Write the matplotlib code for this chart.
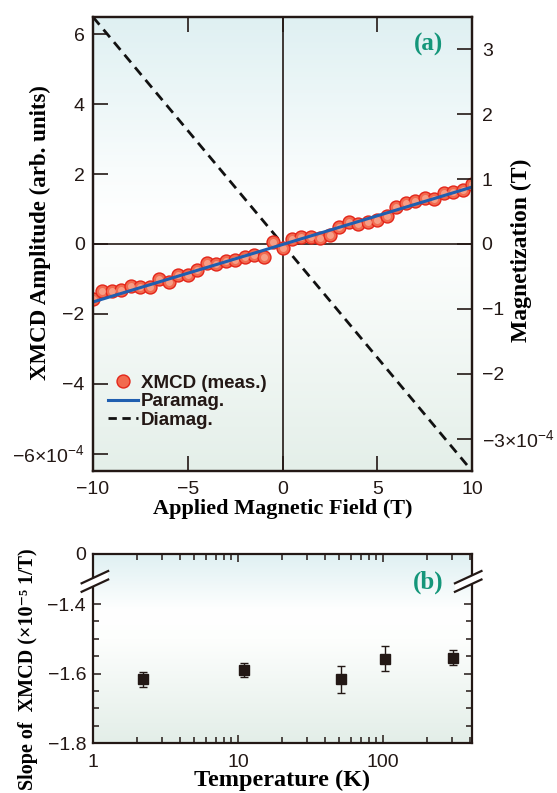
import numpy as np
import matplotlib.pyplot as plt
from matplotlib.colors import to_rgb
from matplotlib.lines import Line2D
from matplotlib.ticker import FixedLocator, LogLocator, NullFormatter, FixedFormatter

plt.rcParams['font.family'] = ['Liberation Sans', 'DejaVu Sans']
plt.rcParams['mathtext.fontset'] = 'custom'
plt.rcParams['mathtext.rm'] = 'Liberation Sans'
plt.rcParams['mathtext.default'] = 'regular'
plt.rcParams['axes.unicode_minus'] = True

# ---- panel (a) data, in units of 1e-4 ----
field = [-10, -9.5, -9, -8.5, -8, -7.5, -7, -6.5, -6, -5.5, -5, -4.5, -4, -3.5,
         -3, -2.5, -2, -1.5, -1, -0.5, 0, 0.5, 1, 1.5, 2, 2.5, 3, 3.5, 4, 4.5,
         5, 5.5, 6, 6.5, 7, 7.5, 8, 8.5, 9, 9.5, 10]
xmcd = [-1.58, -1.35, -1.35, -1.32, -1.19, -1.22, -1.22, -1.01, -1.10, -0.89,
        -0.89, -0.75, -0.55, -0.58, -0.49, -0.46, -0.36, -0.32, -0.36, 0.05,
        -0.12, 0.13, 0.21, 0.21, 0.16, 0.26, 0.50, 0.64, 0.56, 0.64, 0.69,
        0.80, 1.07, 1.18, 1.23, 1.31, 1.28, 1.47, 1.50, 1.55, 1.71]
para_x = [-10, 10]
para_y = [-1.66, 1.63]
diam_x = [-10, 10]
diam_y = [6.5, -6.5]

# ---- panel (b) data, in units of 1e-5 1/T ----
temp = [2.2, 11, 51, 103, 303]
slope = [-1.617, -1.590, -1.617, -1.557, -1.554]
slope_err = [0.021, 0.020, 0.040, 0.036, 0.022]

SERIF = ['Liberation Serif', 'DejaVu Serif']
GREEN = '#14967a'
INK = '#231815'
TICK_FS = 14
LABEL_FS = 16

fig = plt.figure(figsize=(5.57, 7.93), dpi=100)


def gradient_bg(rect, stops):
    bg = fig.add_axes(rect, zorder=0)
    n = 256
    pos = np.linspace(0, 1, n)
    fr = [s[0] for s in stops]
    cols = np.array([to_rgb(s[1]) for s in stops])
    img = np.stack([np.interp(pos, fr, cols[:, k]) for k in range(3)], axis=-1)
    bg.imshow(img[:, None, :], aspect='auto', extent=[0, 1, 0, 1])
    bg.set_axis_off()
    return bg


rect_a = [93 / 557, 1 - 471 / 793, 379 / 557, 454 / 793]
rect_b = [93 / 557, 1 - 743 / 793, 379 / 557, 189 / 793]
gradient_bg(rect_a, [(0, '#dff0f2'), (0.33, '#f8fcfc'), (0.45, '#ffffff'),
                     (0.55, '#fbfdfc'), (1, '#e4efe9')])
gradient_bg(rect_b, [(0, '#dff0f2'), (0.3, '#ffffff'), (0.45, '#fdfefd'),
                     (1, '#e3eee8')])

# ================= panel (a) =================
ax = fig.add_axes(rect_a, zorder=1)
ax.patch.set_alpha(0)
ax.axhline(0, color=INK, lw=1.2, zorder=1)
ax.axvline(0, color=INK, lw=1.2, zorder=1)
ax.plot(diam_x, diam_y, color='#111111', lw=2.0, dashes=(3.6, 2.3), zorder=2)
ax.plot(field, xmcd, 'o', ms=9.3, mfc='#f26a4f', mec='#e3261a', mew=1.0,
        ls='none', zorder=3)
ax.plot(field, xmcd, 'o', ms=5, mfc='#f9a78f', mec='none', alpha=0.85,
        ls='none', zorder=3)
ax.plot(para_x, para_y, color='#1f5fb0', lw=2.2, zorder=4)

ax.set_xlim(-10, 10)
ax.set_ylim(-6.5, 6.5)
ax.set_xticks([-10, -5, 0, 5, 10])
ax.set_xticklabels(['\u221210', '\u22125', '0', '5', '10'])
ax.set_yticks([-6, -4, -2, 0, 2, 4, 6])
ax.set_yticklabels([r'$-6{\times}10^{-4}$', '\u22124', '\u22122', '0', '2', '4', '6'])
ax.tick_params(direction='in', length=11, width=1.2, labelsize=TICK_FS,
               top=True, right=False, colors=INK, pad=6)
ax.tick_params(axis='x', pad=7)
for s in ax.spines.values():
    s.set_linewidth(1.6)
    s.set_color(INK)
ax.set_xlabel('Applied Magnetic Field (T)', family=SERIF, weight='bold',
              fontsize=LABEL_FS, labelpad=1)
ax.set_ylabel('XMCD Amplitude (arb. units)', family=SERIF, weight='bold',
              fontsize=LABEL_FS + 0.5)
ax.yaxis.set_label_coords(-0.112, 0.526)

ax2 = ax.twinx()
ax2.set_ylim(-3.5, 3.5)
ax2.set_yticks([-3, -2, -1, 0, 1, 2, 3])
ax2.set_yticklabels([r'$-3{\times}10^{-4}$', '\u22122', '\u22121', '0', '1', '2', '3'])
ax2.tick_params(direction='in', length=11, width=1.2, labelsize=TICK_FS,
                colors=INK, pad=7)
for s in ax2.spines.values():
    s.set_linewidth(1.6)
    s.set_color(INK)
ax2.set_ylabel('Magnetization (T)', family=SERIF, weight='bold',
               fontsize=LABEL_FS + 1, rotation=90)
ax2.yaxis.set_label_coords(1.103, 0.487)

ax.text(0.885, 0.94, '(a)', transform=ax.transAxes, family=SERIF,
        weight='bold', fontsize=18, color=GREEN, ha='center', va='center')

handles = [
    Line2D([], [], marker='o', ls='none', ms=9.3, mfc='#f26a4f', mec='#e3261a', mew=1.0),
    Line2D([], [], color='#1f5fb0', lw=2.2),
    Line2D([], [], color='#111111', lw=2.0, dashes=(3, 2)),
]
leg = ax.legend(handles, ['XMCD (meas.)', 'Paramag.', 'Diamag.'],
                loc='upper left', bbox_to_anchor=(0.01, 0.237), frameon=False,
                handlelength=1.6, handletextpad=0.15, labelspacing=0.08,
                borderaxespad=0.2, prop={'weight': 'bold', 'size': 13.5})
for t in leg.get_texts():
    t.set_color(INK)

# ================= panel (b) =================
bx = fig.add_axes(rect_b, zorder=1)
bx.patch.set_alpha(0)
bx.errorbar(temp, slope, yerr=slope_err, fmt='s', ms=7, color=INK,
            mfc=INK, mec=INK, elinewidth=1.0, capsize=3, capthick=1.0,
            zorder=3)
bx.set_xscale('log')
bx.set_xlim(1, 410)
bx.set_ylim(-1.8, -1.256)
bx.xaxis.set_major_locator(FixedLocator([1, 10, 100]))
bx.xaxis.set_major_formatter(FixedFormatter(['1', '10', '100']))
bx.xaxis.set_minor_locator(LogLocator(base=10, subs=np.arange(2, 10), numticks=20))
bx.xaxis.set_minor_formatter(NullFormatter())
bx.yaxis.set_major_locator(FixedLocator([-1.8, -1.6, -1.4, -1.256]))
bx.yaxis.set_major_formatter(FixedFormatter(['\u22121.8', '\u22121.6', '\u22121.4', '0']))
bx.yaxis.set_minor_locator(FixedLocator([-1.75, -1.7, -1.65, -1.55, -1.5, -1.45]))
bx.tick_params(which='both', direction='in', top=True, right=True,
               colors=INK, labelsize=TICK_FS, width=1.1)
bx.tick_params(which='major', length=6, pad=5)
bx.tick_params(which='minor', length=4.5)
bx.tick_params(axis='x', which='major', pad=8)
for s in bx.spines.values():
    s.set_linewidth(1.6)
    s.set_color(INK)
bx.set_xlabel('Temperature (K)', family=SERIF, weight='bold',
              fontsize=LABEL_FS + 1.5, labelpad=-1)
bx.set_ylabel('Slope of  XMCD (\u00d710\u207b\u2075 1/T)', family=SERIF,
              weight='bold', fontsize=14.5)
bx.yaxis.set_label_coords(-0.145, 0.39)

bx.text(0.885, 0.85, '(b)', transform=bx.transAxes, family=SERIF,
        weight='bold', fontsize=18, color=GREEN, ha='center', va='center')

# axis-break marks on both sides
for x0, x1 in [(-0.03, 0.04), (0.955, 1.025)]:
    y0, y1 = 0.80, 0.865
    gap = 0.045
    bx.fill([x0, x1, x1, x0], [y0, y1, y1 + gap, y0 + gap], color='white',
            transform=bx.transAxes, clip_on=False, zorder=5, lw=0)
    for dy in (0, gap):
        bx.plot([x0, x1], [y0 + dy, y1 + dy], color=INK, lw=1.6,
                transform=bx.transAxes, clip_on=False, zorder=6)

fig.savefig('out.png', dpi=100)
